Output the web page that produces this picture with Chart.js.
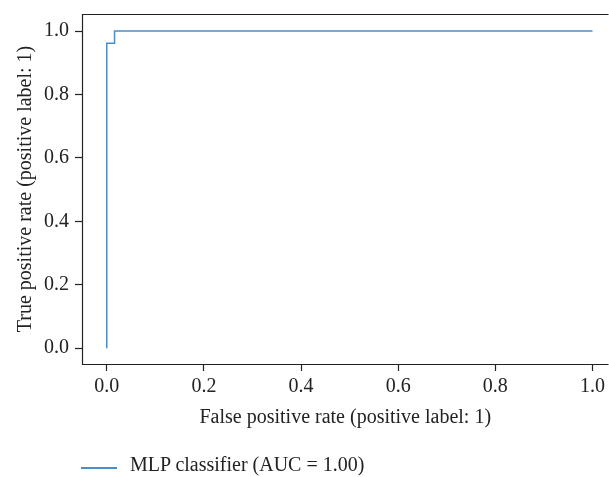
<!DOCTYPE html>
<html>
<head>
<meta charset="utf-8">
<script src="https://cdn.jsdelivr.net/npm/chart.js@4"></script>
<style>
    html, body { margin: 0; padding: 0; background: #fff; overflow: hidden; }
    #wrap { position: relative; width: 609px; height: 477px; }
    #legend {
        position: absolute; left: 81px; top: 452px; height: 24px;
        font-family: "Liberation Serif", serif; font-size: 20px; line-height: 24px; color: #222;
        white-space: nowrap;
    }
    #legend .swatch { position: absolute; left: 0; top: 15px; width: 36px; height: 2px; background: #4a8fc7; }
    #legend .text { position: absolute; left: 49px; top: 0; }
</style>
</head>
<body>
<div id="wrap">
    <canvas id="rocChart" width="609" height="477"></canvas>
    <div id="legend"><span class="swatch"></span><span class="text" id="legendText"></span></div>
</div>
<script>
// ROC curve points
const fprValues = [0, 0, 0.016, 0.016, 1];
const tprValues = [0, 0.962, 0.962, 1, 1];
const tickValues = [0, 0.2, 0.4, 0.6, 0.8, 1.0];
const seriesLabel = 'MLP classifier (AUC = 1.00)';

const FONT = { family: '"Liberation Serif", serif', size: 20 };
const AXIS_COLOR = '#222';
const LINE_COLOR = '#4a8fc7';

// draws the top / left / bottom frame of the plot
const framePlugin = {
    id: 'frame',
    afterDraw(chart) {
        const { ctx, chartArea: a } = chart;
        ctx.save();
        ctx.strokeStyle = AXIS_COLOR;
        ctx.lineWidth = 1.2;
        ctx.beginPath();
        ctx.moveTo(a.right, a.top + 0.5);
        ctx.lineTo(a.left + 0.5, a.top + 0.5);
        ctx.lineTo(a.left + 0.5, a.bottom + 0.5);
        ctx.lineTo(a.right, a.bottom + 0.5);
        ctx.stroke();
        ctx.restore();
    }
};

function initChart() {
    const ctx = document.getElementById('rocChart').getContext('2d');
    const points = fprValues.map((x, i) => ({ x, y: tprValues[i] }));
    return new Chart(ctx, {
        type: 'scatter',
        data: {
            datasets: [{
                label: seriesLabel,
                data: points,
                showLine: true,
                borderColor: LINE_COLOR,
                borderWidth: 1.5,
                pointRadius: 0,
                fill: false
            }]
        },
        options: {
            responsive: false,
            animation: false,
            layout: { padding: { top: 14, right: 0, bottom: 47, left: 14 } },
            scales: {
                x: {
                    type: 'linear',
                    min: -0.051,
                    max: 1.033,
                    afterBuildTicks: axis => { axis.ticks = tickValues.map(v => ({ value: v })); },
                    ticks: {
                        font: FONT, color: AXIS_COLOR, padding: 4, maxRotation: 0,
                        callback: v => v.toFixed(1)
                    },
                    grid: { drawOnChartArea: false, tickLength: 7, tickWidth: 1.2, color: AXIS_COLOR },
                    border: { display: false },
                    title: {
                        display: true,
                        text: 'False positive rate (positive label: 1)',
                        font: FONT, color: AXIS_COLOR,
                        padding: { top: 3, bottom: 0 }
                    }
                },
                y: {
                    type: 'linear',
                    min: -0.05,
                    max: 1.054,
                    // tick labels sit well inside the range, no extra room needed above
                    afterFit: axis => { axis.paddingTop = 0; axis.paddingBottom = 0; },
                    afterBuildTicks: axis => { axis.ticks = tickValues.map(v => ({ value: v })); },
                    ticks: {
                        font: FONT, color: AXIS_COLOR, padding: 6,
                        callback: v => v.toFixed(1)
                    },
                    grid: { drawOnChartArea: false, tickLength: 7, tickWidth: 1.2, color: AXIS_COLOR },
                    border: { display: false },
                    title: {
                        display: true,
                        text: 'True positive rate (positive label: 1)',
                        font: FONT, color: AXIS_COLOR,
                        padding: { top: 0, bottom: 0 }
                    }
                }
            },
            plugins: {
                legend: { display: false },
                tooltip: { enabled: false }
            }
        },
        plugins: [framePlugin]
    });
}

const chart = initChart();
document.getElementById('legendText').textContent = chart.data.datasets[0].label;
</script>
</body>
</html>
